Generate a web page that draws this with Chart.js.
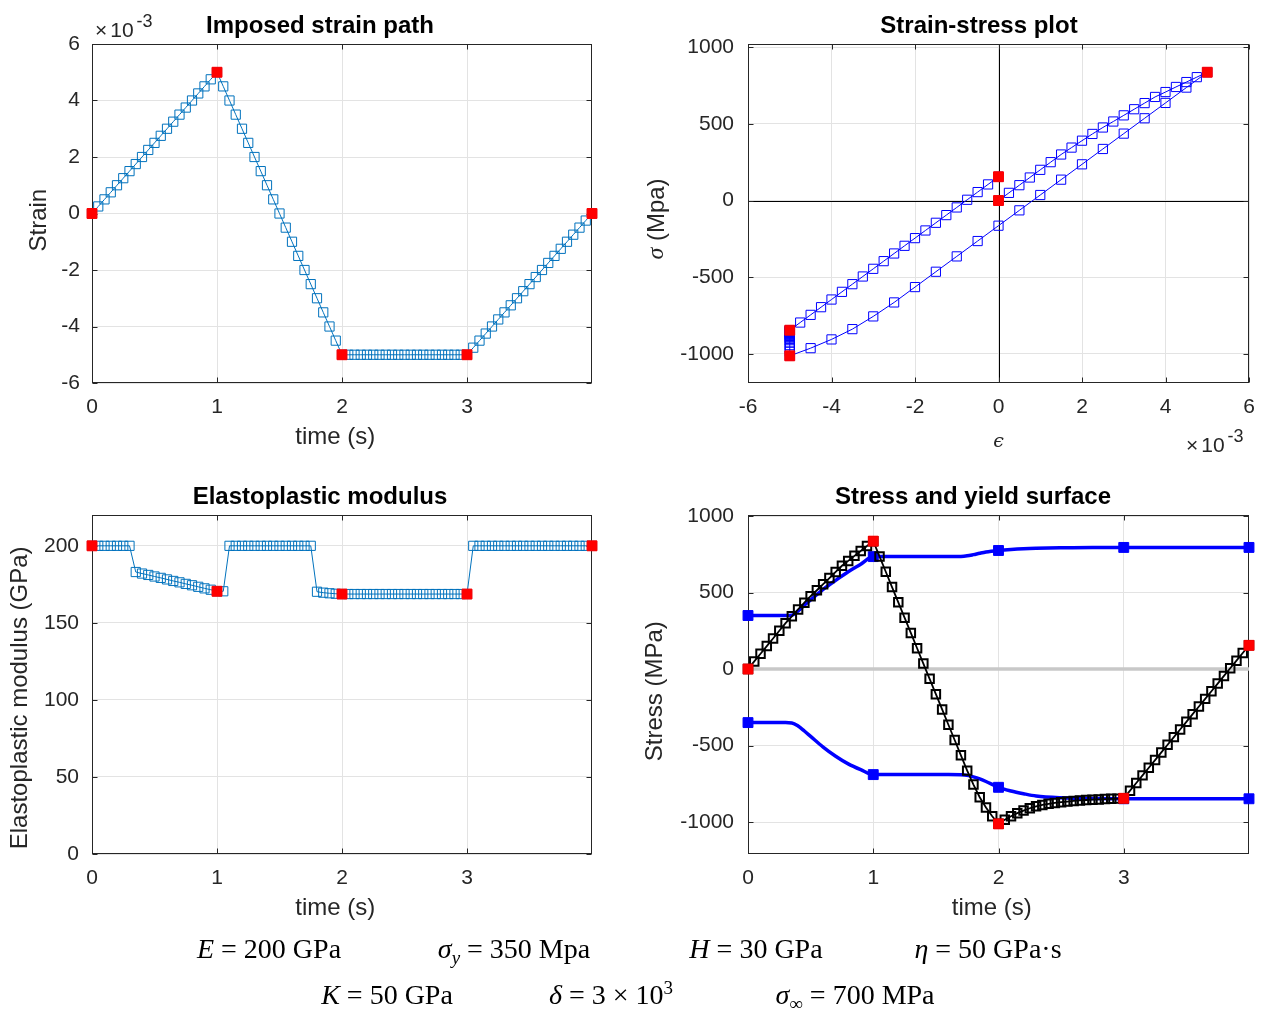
<!DOCTYPE html>
<html>
<head>
<meta charset="utf-8">
<script src="https://cdn.jsdelivr.net/npm/chart.js@4.4.0/dist/chart.umd.min.js"></script>
<style>
  body { margin: 0; background: #fff; }
  #fig { position: relative; width: 1261px; height: 1010px; overflow: hidden; }
  canvas { position: absolute; left: 0; top: 0; }
  .eq { position: absolute; font-family: "Liberation Serif", "Times New Roman", serif; font-size: 28px;
        line-height: 30px; color: #000; white-space: nowrap; transform: translateX(-50%); }
  .eq i { font-style: italic; }
  .eq .op { margin: 0 7px; }
  .eq sub, .eq sup { font-size: 19px; line-height: 0; }
  .eq sub { vertical-align: -6px; }
  .eq sup { vertical-align: 10px; }
</style>
</head>
<body>
<div id="fig">
  <canvas id="c1" width="1261" height="1010"></canvas>
  <canvas id="c2" width="1261" height="1010"></canvas>
  <canvas id="c3" width="1261" height="1010"></canvas>
  <canvas id="c4" width="1261" height="1010"></canvas>

  <div class="eq" style="left:269px;top:934px"><i>E</i><span class="op">=</span>200 GPa</div>
  <div class="eq" style="left:514px;top:934px"><i>σ<sub>y</sub></i><span class="op">=</span>350 Mpa</div>
  <div class="eq" style="left:756px;top:934px"><i>H</i><span class="op">=</span>30 GPa</div>
  <div class="eq" style="left:988px;top:934px"><i>η</i><span class="op">=</span>50 GPa·s</div>
  <div class="eq" style="left:387px;top:980px"><i>K</i><span class="op">=</span>50 GPa</div>
  <div class="eq" style="left:611px;top:980px"><i>δ</i><span class="op">=</span>3<span class="op">×</span>10<sup>3</sup></div>
  <div class="eq" style="left:855px;top:980px"><i>σ</i><sub>∞</sub><span class="op">=</span>700 MPa</div>
</div>

<script>
// time of each saved step (s)
const T = [0,0.05,0.1,0.15,0.2,0.25,0.3,0.35,0.4,0.45,0.5,0.55,0.6,0.65,0.7,0.75,0.8,0.85,0.9,0.95,1,
  1.05,1.1,1.15,1.2,1.25,1.3,1.35,1.4,1.45,1.5,1.55,1.6,1.65,1.7,1.75,1.8,1.85,1.9,1.95,2,
  2.05,2.1,2.15,2.2,2.25,2.3,2.35,2.4,2.45,2.5,2.55,2.6,2.65,2.7,2.75,2.8,2.85,2.9,2.95,3,
  3.05,3.1,3.15,3.2,3.25,3.3,3.35,3.4,3.45,3.5,3.55,3.6,3.65,3.7,3.75,3.8,3.85,3.9,3.95,4];

// strain, in units of 1e-3
const strain = [0,0.25,0.5,0.75,1,1.25,1.5,1.75,2,2.25,2.5,2.75,3,3.25,3.5,3.75,4,4.25,4.5,4.75,5,
  4.5,4,3.5,3,2.5,2,1.5,1,0.5,0,-0.5,-1,-1.5,-2,-2.5,-3,-3.5,-4,-4.5,-5,
  -5,-5,-5,-5,-5,-5,-5,-5,-5,-5,-5,-5,-5,-5,-5,-5,-5,-5,-5,-5,
  -4.75,-4.5,-4.25,-4,-3.75,-3.5,-3.25,-3,-2.75,-2.5,-2.25,-2,-1.75,-1.5,-1.25,-1,-0.75,-0.5,-0.25,0];

// stress (MPa)
const stress = [0,50,100,150,200,250,300,345,390,434,476,515,555,595,635,675,707,740,772,804,836,
  736,636,536,436,336,236,136,36,-64,-164,-264,-364,-464,-564,-664,-755,-838,-905,-962,-1012,
  -985,-962,-942,-925,-910,-897,-888,-881,-875,-870,-866,-862,-859,-856,-854,-852,-850,-848,-847,-845,
  -795,-745,-695,-645,-595,-545,-495,-445,-395,-345,-295,-245,-195,-145,-95,-45,5,55,105,155];

// elastoplastic modulus (GPa)
const modulus = [200,200,200,200,200,200,200,183,182,181.1,180.1,179.2,178.2,177.2,176.3,175.3,174.4,173.4,172.4,171.5,170.5,
  170.5,200,200,200,200,200,200,200,200,200,200,200,200,200,200,170.2,169.6,169.2,168.9,168.7,
  168.7,168.7,168.7,168.7,168.7,168.7,168.7,168.7,168.7,168.7,168.7,168.7,168.7,168.7,168.7,168.7,168.7,168.7,168.7,168.7,
  200,200,200,200,200,200,200,200,200,200,200,200,200,200,200,200,200,200,200,200];

// end points of each loading stage
const markT = [0, 1, 2, 3, 4];
const markStrain = [0, 5, -5, -5, 0];
const markStress = [0, 836, -1012, -845, 155];
const markModulus = [200, 170.5, 168.7, 168.7, 200];

// yield surface
const yieldT = [0,0.1,0.2,0.3,0.35,0.4,0.45,0.5,0.6,0.7,0.8,0.9,1,1.2,1.4,1.6,1.7,1.75,1.8,1.85,1.9,2,2.1,2.2,2.3,2.5,2.75,3,3.5,4];
const yieldUp = [350,350,350,350,352,380,418,452,521,580,636,685,735,735,735,735,736,740,748,757,765,775,782,787,790,793,795,795,795,795];
const yieldLo = [-350,-350,-350,-350,-352,-372,-405,-440,-510,-570,-620,-658,-690,-690,-690,-690,-691,-695,-705,-718,-735,-773,-797,-815,-830,-842,-847,-848,-848,-848];

const zeroT = [0, 4];
const zeroS = [0, 0];

// tick positions
const tTicks = [0, 1, 2, 3];
const strainYTicks = [-6, -4, -2, 0, 2, 4, 6];
const strainTicks = [-6, -4, -2, 0, 2, 4, 6];
const stressTicks = [-1000, -500, 0, 500, 1000];
const modTicks = [0, 50, 100, 150, 200];

const FONT = '"Liberation Sans", Arial, Helvetica, sans-serif';
const INK = '#262626';
const MBLUE = '#0072BD';
const RED = '#ff0000';
const BLUE = '#0000ff';

const xy = (xs, ys) => xs.map((v, i) => ({x: v, y: ys[i]}));

// box, inner ticks, titles, exponent labels
const matlab = {
  id: 'matlab',
  beforeDatasetsDraw(chart, args, o) {
    const {ctx, chartArea: a, scales: {x, y}} = chart;
    ctx.save();
    if (o.zeroLines) {
      ctx.strokeStyle = '#000';
      ctx.lineWidth = 1;
      const px = Math.round(x.getPixelForValue(0)) + 0.5;
      const py = Math.round(y.getPixelForValue(0)) + 0.5;
      ctx.beginPath();
      ctx.moveTo(px, a.top); ctx.lineTo(px, a.bottom);
      ctx.moveTo(a.left, py); ctx.lineTo(a.right, py);
      ctx.stroke();
    }
    const L = Math.round(a.left) + 0.5, R = Math.round(a.right) - 0.5;
    const Tp = Math.round(a.top) + 0.5, B = Math.round(a.bottom) - 0.5;
    ctx.strokeStyle = INK;
    ctx.lineWidth = 1;
    ctx.strokeRect(L, Tp, R - L, B - Tp);
    ctx.beginPath();
    x.ticks.forEach(t => {
      const p = Math.round(x.getPixelForValue(t.value)) + 0.5;
      ctx.moveTo(p, B); ctx.lineTo(p, B - 5);
      ctx.moveTo(p, Tp); ctx.lineTo(p, Tp + 5);
    });
    y.ticks.forEach(t => {
      const p = Math.round(y.getPixelForValue(t.value)) + 0.5;
      ctx.moveTo(L, p); ctx.lineTo(L + 5, p);
      ctx.moveTo(R, p); ctx.lineTo(R - 5, p);
    });
    ctx.stroke();
    ctx.restore();
  },
  afterDraw(chart, args, o) {
    const ctx = chart.ctx;
    ctx.save();
    ctx.fillStyle = '#000';
    ctx.textBaseline = 'alphabetic';
    if (o.title) {
      ctx.font = 'bold 24px ' + FONT;
      ctx.textAlign = 'center';
      ctx.fillText(o.title, o.titleX, o.titleY);
    }
    if (o.expo) {
      ctx.fillStyle = INK;
      ctx.textAlign = 'left';
      ctx.font = '21px ' + FONT;
      ctx.fillText('×', o.expo.x, o.expo.y);
      let w = ctx.measureText('×').width + 3;
      ctx.fillText('10', o.expo.x + w, o.expo.y);
      w += ctx.measureText('10').width;
      ctx.font = '18px ' + FONT;
      ctx.fillText('-3', o.expo.x + w + 3, o.expo.y - 10);
    }
    if (o.sigma) {
      ctx.fillStyle = INK;
      ctx.translate(o.sigma.x, o.sigma.y);
      ctx.rotate(-Math.PI / 2);
      ctx.textBaseline = 'middle';
      ctx.textAlign = 'left';
      const f1 = 'italic 24px "Liberation Serif", serif', f2 = '24px ' + FONT;
      ctx.font = f1; const w1 = ctx.measureText('σ').width;
      ctx.font = f2; const w2 = ctx.measureText(' (Mpa)').width;
      const x0 = -(w1 + w2) / 2;
      ctx.font = f1; ctx.fillText('σ', x0, 0);
      ctx.font = f2; ctx.fillText(' (Mpa)', x0 + w1, 0);
    }
    ctx.restore();
  }
};
Chart.register(matlab);

function noPad(s) {
  s.paddingLeft = 0; s.paddingRight = 0; s.paddingTop = 0; s.paddingBottom = 0;
}

function scale(min, max, ticks, extra) {
  return Object.assign({
    type: 'linear', min, max,
    afterBuildTicks: s => { s.ticks = ticks.map(v => ({value: v})); },
    grid: {color: '#e3e3e3', drawTicks: false},
    border: {display: false},
    ticks: {font: {family: FONT, size: 21}, color: INK, padding: 12,
            autoSkip: false, maxRotation: 0, callback: v => String(v)}
  }, extra);
}

function xAxis(min, max, ticks, title) {
  return scale(min, max, ticks, {
    afterFit: s => { s.height = 70; noPad(s); },
    title: Object.assign({display: true, color: INK, padding: {top: 0, bottom: 1},
                          font: {family: FONT, size: 24}}, title)
  });
}

function yAxis(min, max, ticks, width, pad, title) {
  const s = scale(min, max, ticks, {
    afterFit: sc => { sc.width = width; noPad(sc); },
    title: title ? {display: true, text: title.text, color: INK, padding: {top: title.pad, bottom: 0},
                    font: {family: FONT, size: 24}} : {display: false}
  });
  s.ticks.padding = pad;
  return s;
}

function make(id, datasets, padding, x, y, deco) {
  return new Chart(document.getElementById(id), {
    type: 'line',
    data: {datasets},
    options: {
      responsive: false,
      animation: false,
      devicePixelRatio: 1,
      events: [],
      layout: {padding, autoPadding: false},
      scales: {x, y},
      plugins: {legend: {display: false}, tooltip: {enabled: false}, matlab: deco}
    }
  });
}

const openSq = (color, r, bw) => ({pointStyle: 'rect', pointRadius: r, pointBorderWidth: bw,
  pointBorderColor: color, pointBackgroundColor: 'rgba(0,0,0,0)', clip: false});
const redSq = {showLine: false, pointStyle: 'rect', pointRadius: 7, pointBorderWidth: 1,
  pointBorderColor: RED, pointBackgroundColor: RED, clip: false};

// 1: imposed strain path
make('c1', [
  Object.assign({data: xy(markT, markStrain)}, redSq),
  Object.assign({data: xy(T, strain), borderColor: MBLUE, borderWidth: 1}, openSq(MBLUE, 6.5, 1))
], {left: 0, top: 44, right: 669, bottom: 557},
  xAxis(0, 4, tTicks, {text: 'time (s)  '}),
  yAxis(-6, 6, strainYTicks, 92, 12, {text: 'Strain  ', pad: 25}),
  {title: 'Imposed strain path', titleX: 320, titleY: 33, expo: {x: 95, y: 37}});

// 2: strain-stress loop
make('c2', [
  Object.assign({data: xy(markStrain, markStress)}, redSq),
  Object.assign({data: xy(strain, stress), borderColor: BLUE, borderWidth: 1}, openSq(BLUE, 6.5, 1))
], {left: 630, top: 44, right: 12, bottom: 557},
  xAxis(-6, 6, strainTicks, {text: 'ϵ', font: {family: '"DejaVu Serif", serif', style: 'italic', size: 19}, padding: {top: 0, bottom: 0}}),
  yAxis(-1189, 1020, stressTicks, 118, 14, null),
  {title: 'Strain-stress plot', titleX: 979, titleY: 33, expo: {x: 1186, y: 452}, zeroLines: true, sigma: {x: 657, y: 219}});

// 3: elastoplastic modulus
make('c3', [
  Object.assign({data: xy(markT, markModulus)}, redSq),
  Object.assign({data: xy(T, modulus), borderColor: MBLUE, borderWidth: 1}, openSq(MBLUE, 6.5, 1))
], {left: 0, top: 515, right: 669, bottom: 86},
  xAxis(0, 4, tTicks, {text: 'time (s)  '}),
  yAxis(0, 220, modTicks, 92, 13, {text: 'Elastoplastic modulus (GPa)    ', pad: 6}),
  {title: 'Elastoplastic modulus', titleX: 320, titleY: 504});

// 4: stress and yield surface
const yieldPts = ctx => Number.isInteger(yieldT[ctx.dataIndex]) ? 7 : 0;
make('c4', [
  Object.assign({data: xy(markT, markStress)}, redSq),
  Object.assign({data: xy(T, stress), borderColor: '#000', borderWidth: 1.8}, openSq('#000', 6, 2)),
  {data: xy(yieldT, yieldUp), borderColor: BLUE, borderWidth: 3.5, cubicInterpolationMode: 'monotone',
   pointStyle: 'rect', pointRadius: yieldPts, pointBackgroundColor: BLUE, pointBorderColor: BLUE, pointBorderWidth: 1, clip: false},
  {data: xy(yieldT, yieldLo), borderColor: BLUE, borderWidth: 3.5, cubicInterpolationMode: 'monotone',
   pointStyle: 'rect', pointRadius: yieldPts, pointBackgroundColor: BLUE, pointBorderColor: BLUE, pointBorderWidth: 1, clip: false},
  {data: xy(zeroT, zeroS), borderColor: '#c8c8c8', borderWidth: 3.5, pointRadius: 0, clip: false}
], {left: 630, top: 515, right: 12, bottom: 86},
  xAxis(0, 4, tTicks, {text: 'time (s)  '}),
  yAxis(-1209, 1007, stressTicks, 118, 14, {text: 'Stress (MPa)  ', pad: 11}),
  {title: 'Stress and yield surface', titleX: 973, titleY: 504});
</script>
</body>
</html>
